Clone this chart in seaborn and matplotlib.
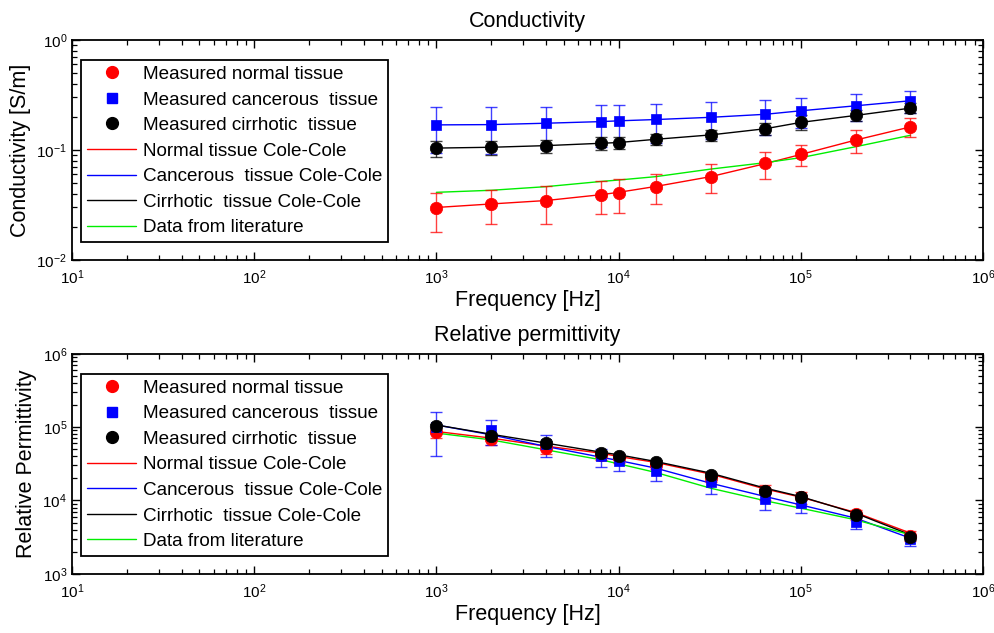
import numpy as np
import pandas as pd
import matplotlib
matplotlib.use("Agg")
import matplotlib.pyplot as plt
import seaborn as sns
from matplotlib.lines import Line2D
from matplotlib.ticker import LogLocator, NullFormatter

# ---------------- data ----------------
freq = [1e3, 2e3, 4e3, 8e3, 1e4, 1.6e4, 3.2e4, 6.4e4, 1e5, 2e5, 4e5]

# Conductivity [S/m]
cond_normal = [0.0295, 0.0321, 0.0344, 0.039, 0.041, 0.0464, 0.0572, 0.0757, 0.0914, 0.1233, 0.163]
cond_normal_err = [0.0115, 0.011, 0.013, 0.013, 0.014, 0.014, 0.017, 0.021, 0.020, 0.030, 0.031]
cond_cancer = [0.169, 0.169, 0.175, 0.181, 0.185, 0.190, 0.198, 0.211, 0.228, 0.253, 0.281]
cond_cancer_err = [0.075, 0.078, 0.072, 0.075, 0.071, 0.074, 0.073, 0.074, 0.071, 0.070, 0.065]
cond_cirr = [0.1035, 0.1057, 0.1094, 0.115, 0.1166, 0.125, 0.137, 0.156, 0.179, 0.207, 0.241]
cond_cirr_err = [0.018, 0.016, 0.015, 0.015, 0.015, 0.014, 0.016, 0.020, 0.028, 0.025, 0.025]

cond_fit_normal = [0.0300, 0.0323, 0.0347, 0.0392, 0.0412, 0.0466, 0.0572, 0.0752, 0.0910, 0.1230, 0.1620]
cond_fit_cancer = [0.169, 0.170, 0.175, 0.181, 0.184, 0.189, 0.198, 0.211, 0.227, 0.252, 0.280]
cond_fit_cirr = [0.1040, 0.1058, 0.1095, 0.1150, 0.1168, 0.1250, 0.1370, 0.1560, 0.1780, 0.2060, 0.2400]
cond_lit = [0.0412, 0.0430, 0.0464, 0.0517, 0.0533, 0.0572, 0.0670, 0.0767, 0.0851, 0.1070, 0.1360]

# Relative permittivity
perm_normal = [8.5e4, 6.85e4, 5.18e4, 4.2e4, 3.78e4, 3.06e4, 2.02e4, 1.33e4, 1.1e4, 6.5e3, 3.3e3]
perm_normal_err = [1.5e4, 1.2e4, 9e3, 6e3, 5e3, 4e3, 2.5e3, 3e3, 2e3, 1e3, 5e2]
perm_cancer = [1.0e5, 9.2e4, 5.86e4, 3.98e4, 3.4e4, 2.54e4, 1.76e4, 1.04e4, 9.2e3, 5.12e3, 2.97e3]
perm_cancer_err = [6e4, 3.5e4, 2e4, 1.1e4, 8.6e3, 7e3, 5.3e3, 3e3, 2.5e3, 1.1e3, 5.5e2]
perm_cirr = [1.02e5, 7.6e4, 6.05e4, 4.42e4, 4.06e4, 3.3e4, 2.21e4, 1.33e4, 1.1e4, 6.24e3, 3.16e3]
perm_cirr_err = [8e3, 6e3, 5e3, 3.5e3, 3e3, 2.5e3, 1.7e3, 1e3, 8e2, 5e2, 2.5e2]

perm_fit_normal = [8.73e4, 7.08e4, 5.5e4, 4.42e4, 3.98e4, 3.3e4, 2.29e4, 1.43e4, 1.11e4, 6.86e3, 3.59e3]
perm_fit_cancer = [1.07e5, 7.85e4, 5.45e4, 3.89e4, 3.51e4, 2.76e4, 1.72e4, 1.13e4, 8.7e3, 5.74e3, 3.06e3]
perm_fit_cirr = [1.07e5, 8.0e4, 6.05e4, 4.56e4, 4.2e4, 3.4e4, 2.36e4, 1.47e4, 1.13e4, 6.7e3, 3.4e3]
perm_lit = [8.3e4, 6.7e4, 4.9e4, 3.59e4, 3.16e4, 2.41e4, 1.47e4, 9.9e3, 7.85e3, 5.45e3, 3.4e3]

legend_labels = ["Measured normal tissue", "Measured cancerous  tissue",
                 "Measured cirrhotic  tissue", "Normal tissue Cole-Cole",
                 "Cancerous  tissue Cole-Cole", "Cirrhotic  tissue Cole-Cole",
                 "Data from literature"]

RED, BLUE, BLACK, GREEN = "#ff0000", "#0000ff", "#000000", "#00ee00"

# ---------------- style ----------------
sns.set_theme(style="white")
plt.rcParams.update({
    "font.family": ["Liberation Sans", "DejaVu Sans"],
    "text.color": "black", "axes.labelcolor": "black",
    "xtick.direction": "in", "ytick.direction": "in",
    "xtick.top": True, "ytick.right": True,
    "xtick.bottom": True, "ytick.left": True,
    "xtick.major.size": 6, "ytick.major.size": 6,
    "xtick.minor.size": 3.5, "ytick.minor.size": 3.5,
    "xtick.major.width": 1.0, "ytick.major.width": 1.0,
    "xtick.minor.width": 0.9, "ytick.minor.width": 0.9,
    "xtick.color": "black", "ytick.color": "black",
    "xtick.labelcolor": "black", "ytick.labelcolor": "black",
    "xtick.labelsize": 11, "ytick.labelsize": 11,
    "axes.edgecolor": "black", "axes.linewidth": 1.3,
    "mathtext.default": "regular",
})

fig = plt.figure(figsize=(9.94, 6.33), dpi=100)
ax1 = fig.add_axes([0.0724, 0.5893, 0.9165, 0.3476])
ax2 = fig.add_axes([0.0724, 0.0935, 0.9165, 0.3476])


def draw(ax, meas, errs, fits, lit, ylim, ylabel, title):
    colors = [RED, BLUE, BLACK]
    markers = ["o", "s", "o"]
    msizes = [80, 62, 80]
    # fitted lines
    for fit, c in zip(fits, colors):
        sns.lineplot(x=freq, y=fit, ax=ax, color=c, lw=1.0, zorder=3)
    sns.lineplot(x=freq, y=lit, ax=ax, color=GREEN, lw=1.0, zorder=3)
    # error bars + measured markers
    for m, e, c, mk, s in zip(meas, errs, colors, markers, msizes):
        ax.errorbar(freq, m, yerr=e, fmt="none", ecolor=c, elinewidth=1.0,
                    capsize=4, capthick=1.0, alpha=0.75, zorder=4)
        sns.scatterplot(x=freq, y=m, ax=ax, color=c, marker=mk, s=s,
                        edgecolor=c, linewidth=0.5, zorder=5, legend=False)
    ax.set_xscale("log")
    ax.set_yscale("log")
    ax.set_xlim(10, 1e6)
    ax.set_ylim(*ylim)
    ax.xaxis.set_major_locator(LogLocator(base=10, numticks=20))
    ax.xaxis.set_minor_locator(LogLocator(base=10, subs=np.arange(2, 10), numticks=50))
    ax.yaxis.set_major_locator(LogLocator(base=10, numticks=20))
    ax.yaxis.set_minor_locator(LogLocator(base=10, subs=np.arange(2, 10), numticks=50))
    ax.xaxis.set_minor_formatter(NullFormatter())
    ax.yaxis.set_minor_formatter(NullFormatter())
    ax.tick_params(which="both", top=True, right=True, bottom=True, left=True,
                   direction="in", colors="black")
    ax.tick_params(which="major", length=6, width=1.0)
    ax.tick_params(which="minor", length=3.5, width=0.9)
    ax.tick_params(axis="x", which="major", pad=6)
    ax.set_xlabel("Frequency [Hz]", fontsize=15.5, labelpad=2, color="black")
    ax.set_ylabel(ylabel, fontsize=15.5, labelpad=4, color="black")
    ax.set_title(title, fontsize=15.5, pad=9, color="black")

    handles = [
        Line2D([], [], ls="none", marker="o", ms=8.5, color=RED),
        Line2D([], [], ls="none", marker="s", ms=7.5, color=BLUE),
        Line2D([], [], ls="none", marker="o", ms=8.5, color=BLACK),
        Line2D([], [], color=RED, lw=1),
        Line2D([], [], color=BLUE, lw=1),
        Line2D([], [], color=BLACK, lw=1),
        Line2D([], [], color=GREEN, lw=1),
    ]
    leg = ax.legend(handles, legend_labels, loc="upper left",
                    bbox_to_anchor=(0.0099, 0.91), borderaxespad=0,
                    fontsize=13.6, handlelength=2.6, handletextpad=0.35,
                    labelspacing=0.44, borderpad=0.32, fancybox=False,
                    framealpha=1, edgecolor="black", labelcolor="black")
    leg.get_frame().set_linewidth(1.3)


draw(ax1, [cond_normal, cond_cancer, cond_cirr],
     [cond_normal_err, cond_cancer_err, cond_cirr_err],
     [cond_fit_normal, cond_fit_cancer, cond_fit_cirr], cond_lit,
     (1e-2, 1e0), "Conductivity [S/m]", "Conductivity")
draw(ax2, [perm_normal, perm_cancer, perm_cirr],
     [perm_normal_err, perm_cancer_err, perm_cirr_err],
     [perm_fit_normal, perm_fit_cancer, perm_fit_cirr], perm_lit,
     (1e3, 1e6), "Relative Permittivity", "Relative permittivity")

fig.savefig("out.png", dpi=100)
